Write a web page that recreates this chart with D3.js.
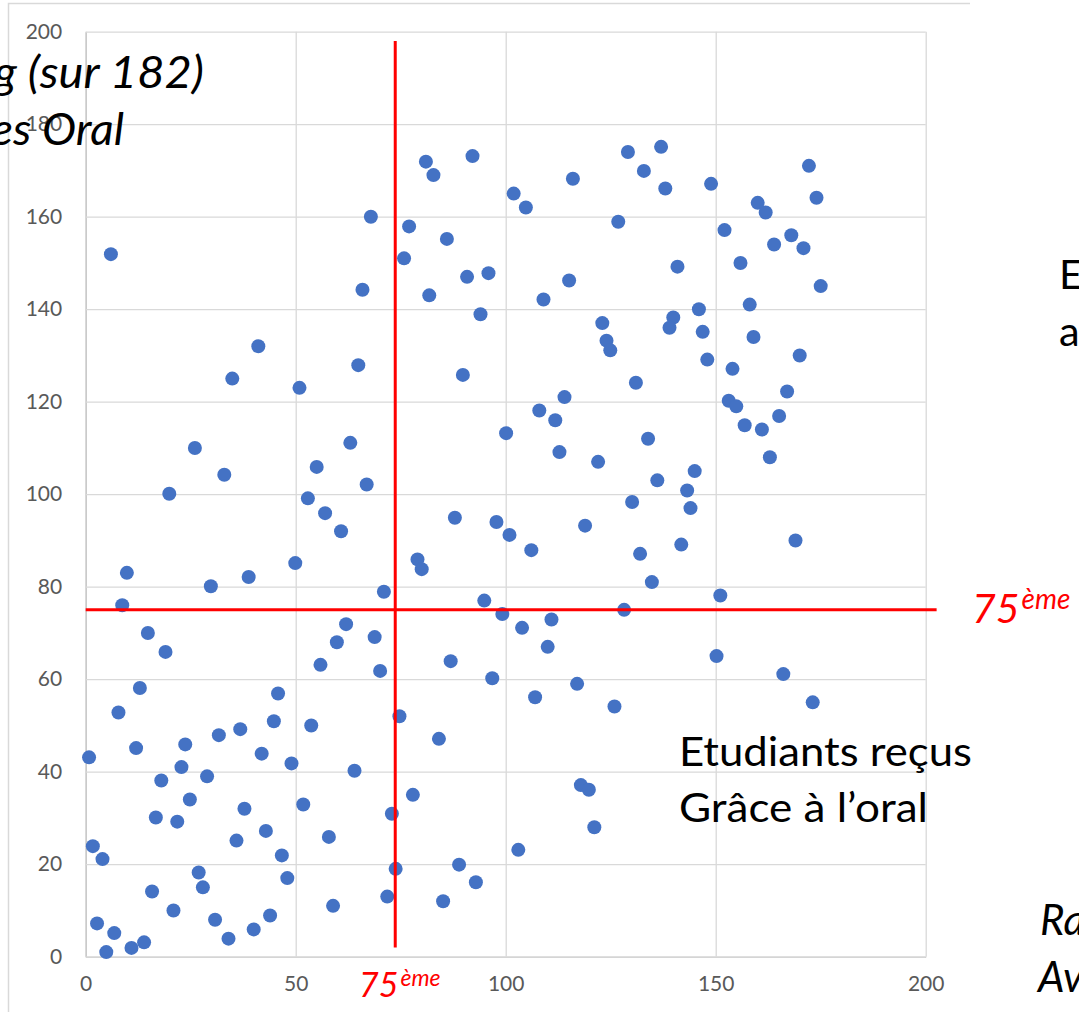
<!DOCTYPE html>
<html>
<head>
<meta charset="utf-8">
<script src="https://cdn.jsdelivr.net/npm/d3@7"></script>
<style>
html,body{margin:0;padding:0;background:#fff;overflow:hidden}
svg{display:block}
</style>
</head>
<body>
<svg id="chart" width="1079" height="1012"></svg>
<script>
// ---- data ----
const xTicks = [0, 50, 100, 150, 200];
const yTicks = [0, 20, 40, 60, 80, 100, 120, 140, 160, 180, 200];

const xRank = [
  6.0, 81.0, 82.8, 92.1, 67.9, 77.0, 86.0, 75.8, 65.9, 81.8, 90.8, 95.9, 94.0, 41.1, 34.9, 50.9, 64.9, 89.8, 26.0, 33.0, 63.0, 55.0, 66.9, 19.9, 52.9,
  101.9, 104.8, 116.0, 129.1, 132.9, 137.0, 138.0, 126.8, 148.9, 152.1, 160.0, 161.9, 172.2, 174.0, 168.0, 163.9, 170.9, 155.9, 140.9, 175.0, 115.1, 109.0, 158.1, 146.0, 123.0, 139.9, 139.0, 146.9, 159.0, 124.0, 124.9, 148.0, 170.0, 154.0, 131.0, 114.0, 108.0, 111.8, 100.1, 167.0, 153.1, 154.9, 165.1, 156.9, 161.0, 162.9, 133.9, 112.8, 122.0, 136.1, 145.0, 143.2, 130.1,
  57.0, 60.8, 87.9, 97.8, 100.9, 9.8, 29.8, 38.8, 49.9, 71.0, 79.0, 80.0, 94.9, 99.2, 8.7, 14.8, 19.0, 62.0, 59.8, 68.8, 55.9, 70.1, 86.9, 96.8, 12.9, 7.8, 45.8, 44.8, 36.8, 31.7, 53.7, 74.7, 84.1, 0.8, 12.0, 23.7, 41.9, 49.0, 22.8, 18.0, 28.9, 64.0, 24.8, 77.9, 72.9, 51.8, 37.8, 16.7, 21.8, 42.9, 35.9, 57.9, 46.7, 1.7, 4.0, 26.9, 27.9, 48.0, 73.8, 88.9, 92.9, 15.8, 20.9, 58.9, 71.8, 85.1, 2.7, 6.8, 4.9, 10.9, 13.9, 30.8, 34.0, 40.0, 43.9,
  144.0, 118.9, 106.1, 132.0, 141.8, 169.0, 134.8, 151.1, 128.2, 103.9, 110.9, 110.0, 150.2, 166.1, 173.1, 117.0, 107.0, 125.9, 117.9, 119.8, 121.1, 103.0
];
const yRank = [
  151.9, 171.9, 169.0, 173.1, 160.0, 157.9, 155.2, 151.0, 144.2, 143.0, 147.0, 147.8, 138.9, 132.0, 125.0, 123.0, 127.9, 125.8, 110.0, 104.2, 111.1, 105.9, 102.1, 100.1, 99.1,
  165.0, 162.0, 168.2, 174.0, 169.9, 175.1, 166.1, 158.9, 167.1, 157.1, 163.0, 160.9, 171.0, 164.1, 156.0, 154.0, 153.2, 150.0, 149.2, 145.0, 146.2, 142.1, 141.0, 140.0, 137.0, 138.2, 136.0, 135.1, 134.0, 133.2, 131.1, 129.1, 130.0, 127.1, 124.1, 121.0, 118.1, 116.0, 113.2, 122.2, 120.2, 119.0, 116.9, 114.9, 114.0, 108.0, 112.0, 109.1, 107.0, 103.0, 105.0, 100.8, 98.3,
  95.9, 92.0, 94.9, 94.0, 91.2, 83.0, 80.1, 82.1, 85.1, 78.9, 85.9, 83.8, 77.0, 74.1, 76.0, 70.0, 65.9, 71.9, 68.0, 69.1, 63.1, 61.8, 63.9, 60.2, 58.1, 52.8, 56.9, 50.9, 49.2, 47.9, 50.0, 52.0, 47.1, 43.1, 45.1, 45.9, 43.9, 41.8, 41.0, 38.1, 39.0, 40.2, 34.0, 35.0, 30.9, 32.9, 32.0, 30.1, 29.2, 27.2, 25.1, 25.9, 21.9, 23.9, 21.1, 18.2, 15.0, 17.0, 19.0, 19.9, 16.1, 14.1, 10.0, 11.0, 13.0, 12.0, 7.2, 5.1, 1.0, 1.9, 3.1, 8.0, 3.9, 5.9, 8.9,
  97.0, 93.2, 87.9, 87.1, 89.1, 90.0, 81.0, 78.1, 75.0, 71.1, 72.9, 67.0, 65.0, 61.1, 55.0, 59.0, 56.1, 54.1, 37.1, 36.1, 28.0, 23.1
];

// 75th percentile markers (as drawn)
const cutX = 73.7;           // vertical red line position
const cutXSpan = [2, 198];   // vertical extent (y units)
const cutY = 75;             // horizontal red line position
const cutYSpan = [0, 202.6]; // horizontal extent (x units)

const labelMain = ["Etudiants reçus", "Grâce à l’oral"];
const labelLeft = ["g (sur 182)", "es Oral"];
const labelRight = ["E", "a"];
const labelRightBottom = ["Ra", "Av"];
const pctNum = "75", pctSup = "ème";

// ---- drawing ----
const svg = d3.select("#chart");
const FONT = "Lato, 'Open Sans', sans-serif";

const x = d3.scaleLinear().domain([0, 200]).range([85.7, 925.7]);
const y = d3.scaleLinear().domain([0, 200]).range([956.7, 31.7]);

// outer chart frame (top and left edges visible)
svg.append("path")
  .attr("d", "M8.5,1012 L8.5,3.5 L970,3.5")
  .attr("fill", "none").attr("stroke", "#d9d9d9").attr("stroke-width", 1.5);

// axes with gridlines
const gx = svg.append("g").attr("transform", `translate(0,${y(0)})`)
  .call(d3.axisBottom(x).tickValues(xTicks).tickSize(-(y(0) - y(200))).tickSizeOuter(0).tickPadding(19));
const gy = svg.append("g").attr("transform", `translate(${x(0)},0)`)
  .call(d3.axisLeft(y).tickValues(yTicks).tickSize(-(x(200) - x(0))).tickSizeOuter(0).tickPadding(23.5));

[gx, gy].forEach(g => {
  g.selectAll(".tick line").attr("stroke", "#d9d9d9").attr("stroke-width", 1.3);
  g.select(".domain").attr("stroke", "#c9c9c9").attr("stroke-width", 1.5);
  g.selectAll(".tick text").attr("fill", "#595959").style("font-family", FONT).style("font-size", "21px");
});

// scatter points
svg.append("g").selectAll("circle")
  .data(d3.range(xRank.length))
  .join("circle")
  .attr("cx", i => x(xRank[i]))
  .attr("cy", i => y(yRank[i]))
  .attr("r", 7)
  .attr("fill", "#4472C4");

// red percentile lines
svg.append("line")
  .attr("x1", x(cutX)).attr("x2", x(cutX))
  .attr("y1", y(cutXSpan[0])).attr("y2", y(cutXSpan[1]))
  .attr("stroke", "#FF0000").attr("stroke-width", 3);
svg.append("line")
  .attr("x1", x(cutYSpan[0])).attr("x2", x(cutYSpan[1]))
  .attr("y1", y(cutY)).attr("y2", y(cutY))
  .attr("stroke", "#FF0000").attr("stroke-width", 3);

// red "75ème" labels
function pct(xPos, yBase, size, supSize, rise) {
  const t = svg.append("text").attr("x", xPos).attr("y", yBase)
    .attr("fill", "#FF0000").style("font-family", FONT).style("font-style", "italic")
    .style("font-size", size + "px");
  t.append("tspan").text(pctNum);
  t.append("tspan").attr("dy", -rise).attr("dx", 2).style("font-size", supSize + "px").text(pctSup);
}
pct(359, 997, 34, 23, 11);
pct(972, 623, 41, 28, 14);

// main annotation
svg.append("text").attr("x", 679).attr("y", 766)
  .style("font-family", FONT).style("font-size", "41.5px").attr("fill", "#000")
  .attr("textLength", 293).attr("lengthAdjust", "spacingAndGlyphs")
  .text(labelMain[0]);
svg.append("text").attr("x", 679).attr("y", 822)
  .style("font-family", FONT).style("font-size", "41.5px").attr("fill", "#000")
  .attr("textLength", 249).attr("lengthAdjust", "spacingAndGlyphs")
  .text(labelMain[1]);

// cropped slide texts
svg.append("text").attr("x", -6).attr("y", 88)
  .style("font-family", FONT).style("font-style", "italic").style("font-size", "44px").attr("fill", "#000")
  .attr("textLength", 210).attr("lengthAdjust", "spacingAndGlyphs")
  .text(labelLeft[0]);
svg.append("text").attr("x", -9).attr("y", 145)
  .style("font-family", FONT).style("font-style", "italic").style("font-size", "44px").attr("fill", "#000")
  .attr("textLength", 133).attr("lengthAdjust", "spacingAndGlyphs")
  .text(labelLeft[1]);

svg.append("text").attr("x", 1059).attr("y", 289)
  .style("font-family", FONT).style("font-size", "41.5px").attr("fill", "#000").text(labelRight[0]);
svg.append("text").attr("x", 1059).attr("y", 346)
  .style("font-family", FONT).style("font-size", "41.5px").attr("fill", "#000").text(labelRight[1]);

svg.append("text").attr("x", 1040).attr("y", 935)
  .style("font-family", FONT).style("font-style", "italic").style("font-size", "42px").attr("fill", "#000").text(labelRightBottom[0]);
svg.append("text").attr("x", 1038).attr("y", 992)
  .style("font-family", FONT).style("font-style", "italic").style("font-size", "42px").attr("fill", "#000").text(labelRightBottom[1]);
</script>
</body>
</html>
